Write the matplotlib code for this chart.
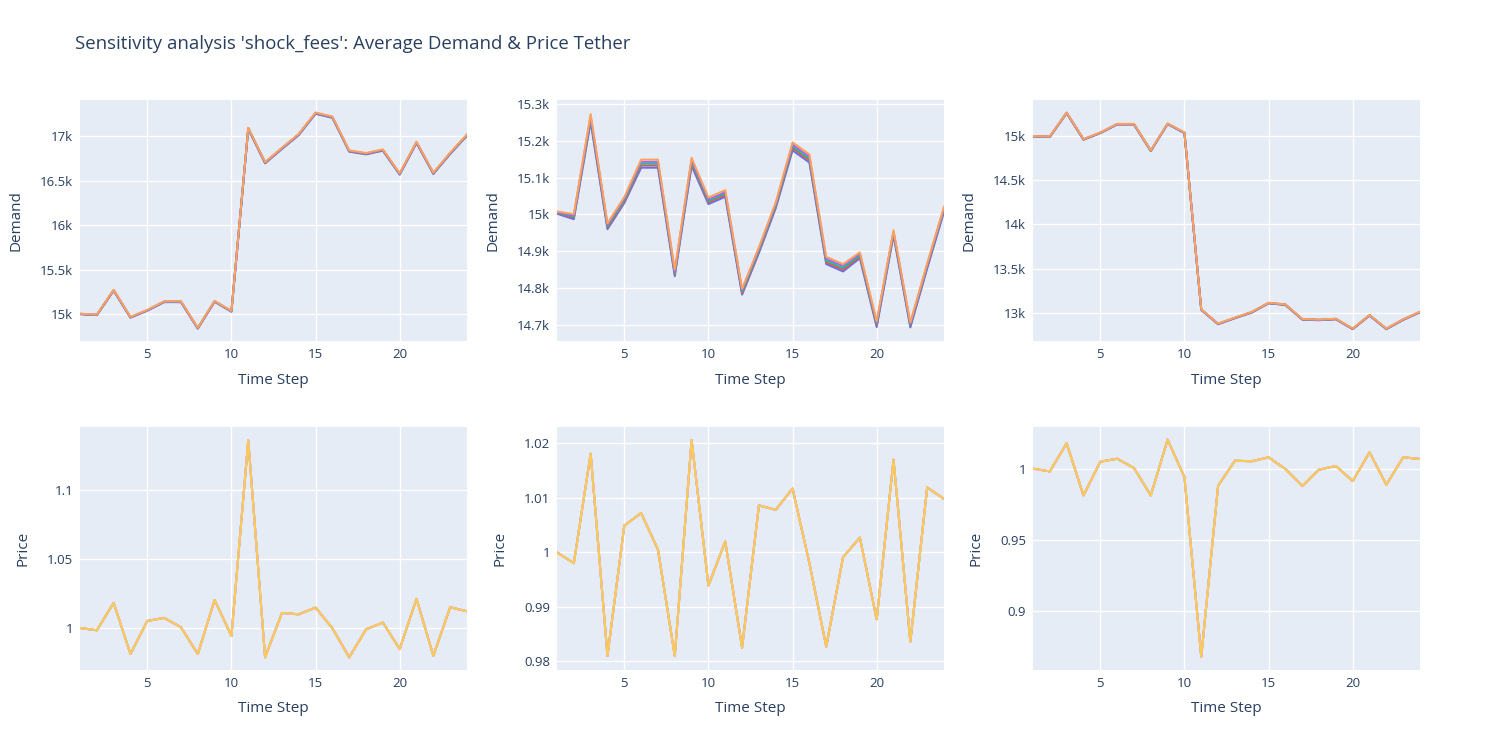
import matplotlib
matplotlib.use("Agg")
import matplotlib.pyplot as plt
from matplotlib.ticker import FuncFormatter

plt.rcParams['font.family'] = ['Open Sans', 'DejaVu Sans']

# time steps, shared by every panel
steps = list(range(1, 25))

# demand, left panel (five runs of the sensitivity analysis)
demand_a_1 = [15002, 14991, 15265, 14963, 15041, 15137, 15137, 14840, 15142, 15030, 17080, 16695, 16856, 17012, 17251, 17206, 16826, 16796, 16837, 16568, 16923, 16576, 16800, 17005]
demand_a_2 = [15004, 14993, 15268, 14966, 15044, 15141, 15141, 14843, 15145, 15033, 17085, 16700, 16861, 17017, 17256, 17211, 16831, 16801, 16842, 16573, 16928, 16581, 16805, 17010]
demand_a_3 = [15005, 14995, 15270, 14968, 15046, 15143, 15143, 14845, 15147, 15035, 17088, 16703, 16864, 17020, 17259, 17214, 16834, 16804, 16845, 16576, 16931, 16584, 16808, 17013]
demand_a_4 = [15006, 14996, 15271, 14969, 15047, 15144, 15144, 14846, 15148, 15036, 17090, 16705, 16866, 17022, 17261, 17216, 16836, 16806, 16847, 16578, 16933, 16586, 16810, 17015]
demand_a_5 = [15008, 14998, 15274, 14972, 15050, 15147, 15147, 14849, 15151, 15039, 17094, 16709, 16870, 17026, 17266, 17221, 16841, 16811, 16852, 16583, 16938, 16591, 16815, 17020]

# demand, middle panel
demand_b_1 = [15002, 14987, 15251, 14960, 15031, 15127, 15127, 14832, 15132, 15028, 15048, 14782, 14895, 15017, 15174, 15141, 14865, 14845, 14881, 14694, 14943, 14693, 14853, 15007]
demand_b_2 = [15004, 14991, 15257, 14964, 15035, 15133, 15133, 14837, 15138, 15033, 15053, 14786, 14899, 15021, 15180, 15147, 14870, 14850, 14885, 14698, 14947, 14697, 14857, 15011]
demand_b_3 = [15005, 14994, 15262, 14968, 15039, 15138, 15138, 14841, 15143, 15037, 15057, 14790, 14903, 15025, 15185, 15152, 14875, 14855, 14889, 14702, 14950, 14700, 14860, 15014]
demand_b_4 = [15006, 14997, 15267, 14972, 15043, 15143, 15143, 14845, 15148, 15041, 15061, 14794, 14907, 15029, 15190, 15157, 14880, 14860, 14893, 14706, 14953, 14703, 14863, 15017]
demand_b_5 = [15008, 15001, 15273, 14976, 15047, 15149, 15149, 14850, 15154, 15046, 15066, 14798, 14911, 15033, 15196, 15163, 14885, 14865, 14897, 14710, 14957, 14707, 14867, 15021]

# demand, right panel
demand_c_1 = [14997, 14991, 15261, 14960, 15035, 15132, 15132, 14832, 15137, 15034, 13032, 12870, 12938, 13002, 13107, 13088, 12923, 12915, 12926, 12814, 12968, 12814, 12919, 13005]
demand_c_2 = [14998, 14993, 15263, 14962, 15037, 15135, 15135, 14834, 15139, 15037, 13034, 12872, 12940, 13004, 13109, 13090, 12925, 12917, 12928, 12816, 12970, 12816, 12921, 13007]
demand_c_3 = [14999, 14995, 15265, 14964, 15039, 15137, 15137, 14836, 15141, 15039, 13036, 12874, 12942, 13006, 13111, 13092, 12927, 12919, 12930, 12818, 12972, 12818, 12923, 13009]
demand_c_4 = [15000, 14996, 15266, 14965, 15040, 15138, 15138, 14837, 15142, 15040, 13037, 12875, 12943, 13007, 13112, 13093, 12928, 12920, 12931, 12819, 12973, 12819, 12924, 13010]
demand_c_5 = [15001, 14997, 15268, 14967, 15042, 15140, 15140, 14839, 15144, 15042, 13039, 12877, 12945, 13009, 13114, 13095, 12930, 12922, 12933, 12821, 12975, 12821, 12926, 13012]

# price, the five runs overlap exactly
price_a = [1.0000, 0.9983, 1.0182, 0.9811, 1.0051, 1.0073, 1.0005, 0.9811, 1.0203, 0.9942, 1.1361, 0.9787, 1.0109, 1.0099, 1.0148, 0.9998, 0.9787, 0.9990, 1.0039, 0.9847, 1.0211, 0.9799, 1.0150, 1.0121]
price_b = [1.0000, 0.9980, 1.0181, 0.9810, 1.0049, 1.0072, 1.0005, 0.9810, 1.0206, 0.9939, 1.0020, 0.9825, 1.0086, 1.0078, 1.0117, 0.9980, 0.9827, 0.9991, 1.0027, 0.9877, 1.0170, 0.9836, 1.0119, 1.0098]
price_c = [1.0000, 0.9981, 1.0178, 0.9812, 1.0049, 1.0070, 1.0005, 0.9812, 1.0204, 0.9941, 0.8678, 0.9880, 1.0056, 1.0052, 1.0080, 0.9998, 0.9878, 0.9993, 1.0019, 0.9913, 1.0115, 0.9887, 1.0080, 1.0068]

demand_ticks_a = [15000, 15500, 16000, 16500, 17000]
demand_ticks_b = [14700, 14800, 14900, 15000, 15100, 15200, 15300]
demand_ticks_c = [13000, 13500, 14000, 14500, 15000]
price_ticks_a = [1.0, 1.05, 1.1]
price_ticks_b = [0.98, 0.99, 1.0, 1.01, 1.02]
price_ticks_c = [0.9, 0.95, 1.0]
step_ticks = [5, 10, 15, 20]

demand_colors = ['#636efa', '#EF553B', '#00cc96', '#ab63fa', '#FFA15A']
price_colors = ['#19d3f3', '#FF6692', '#B6E880', '#FF97FF', '#FECB52']

text_color = '#2a3f5f'
PT = 72 / 100  # plotly px -> points at dpi 100
FS = 1.09      # the reference text renders a little larger

fig = plt.figure(figsize=(15, 7.5), dpi=100)
fig.text(75 / 1500, 1 - 44 / 750, "Sensitivity analysis 'shock_fees': Average Demand & Price Tether",
         fontsize=17 * PT * 1.1, color=text_color, ha='left', va='center')

col_left = [80, 557, 1033]
col_width = 387
row_top = [100, 427]
row_height = [241, 243]
xlabel_gap = [40, 38]

demand_sets = [
    [demand_a_1, demand_a_2, demand_a_3, demand_a_4, demand_a_5],
    [demand_b_1, demand_b_2, demand_b_3, demand_b_4, demand_b_5],
    [demand_c_1, demand_c_2, demand_c_3, demand_c_4, demand_c_5],
]
prices = [price_a, price_b, price_c]
demand_ticks = [demand_ticks_a, demand_ticks_b, demand_ticks_c]
price_ticks = [price_ticks_a, price_ticks_b, price_ticks_c]
demand_lims = [(14701, 17406), (14656, 15311), (12680, 15410)]
price_lims = [(0.9695, 1.1458), (0.9784, 1.0230), (0.8585, 1.0293)]

k_fmt = FuncFormatter(lambda v, p: f"{v / 1000:g}k")
p_fmt = FuncFormatter(lambda v, p: f"{v:g}")


def style(ax, row):
    ax.set_facecolor('#E5ECF6')
    for s in ax.spines.values():
        s.set_visible(False)
    ax.grid(True, color='white', linewidth=1)
    ax.set_axisbelow(True)
    ax.tick_params(length=0, labelsize=12 * PT * FS, labelcolor=text_color)
    ax.tick_params(axis='x', pad=5)
    ax.tick_params(axis='y', pad=5)
    ax.set_xlim(1, 24)
    ax.set_xticks(step_ticks)
    ax.set_xlabel('Time Step', fontsize=14 * PT * FS, color=text_color, va='center')
    ax.xaxis.set_label_coords(0.5, -xlabel_gap[row] / row_height[row])


for col in range(3):
    # demand row
    ax = fig.add_axes([col_left[col] / 1500, 1 - (row_top[0] + row_height[0]) / 750,
                       col_width / 1500, row_height[0] / 750])
    style(ax, 0)
    for series, c in zip(demand_sets[col], demand_colors):
        ax.plot(steps, series, color=c, linewidth=2 * PT)
    ax.set_ylim(*demand_lims[col])
    ax.set_yticks(demand_ticks[col])
    ax.yaxis.set_major_formatter(k_fmt)
    ax.set_ylabel('Demand', fontsize=14 * PT * FS, color=text_color, va='center')
    ax.yaxis.set_label_coords(-64 / col_width, 0.5)

    # price row
    ax = fig.add_axes([col_left[col] / 1500, 1 - (row_top[1] + row_height[1]) / 750,
                       col_width / 1500, row_height[1] / 750])
    style(ax, 1)
    for c in price_colors:
        ax.plot(steps, prices[col], color=c, linewidth=2 * PT)
    ax.set_ylim(*price_lims[col])
    ax.set_yticks(price_ticks[col])
    ax.yaxis.set_major_formatter(p_fmt)
    ax.set_ylabel('Price', fontsize=14 * PT * FS, color=text_color, va='center')
    ax.yaxis.set_label_coords(-57 / col_width, 0.5)

fig.savefig('out.png', dpi=100, facecolor='white')
